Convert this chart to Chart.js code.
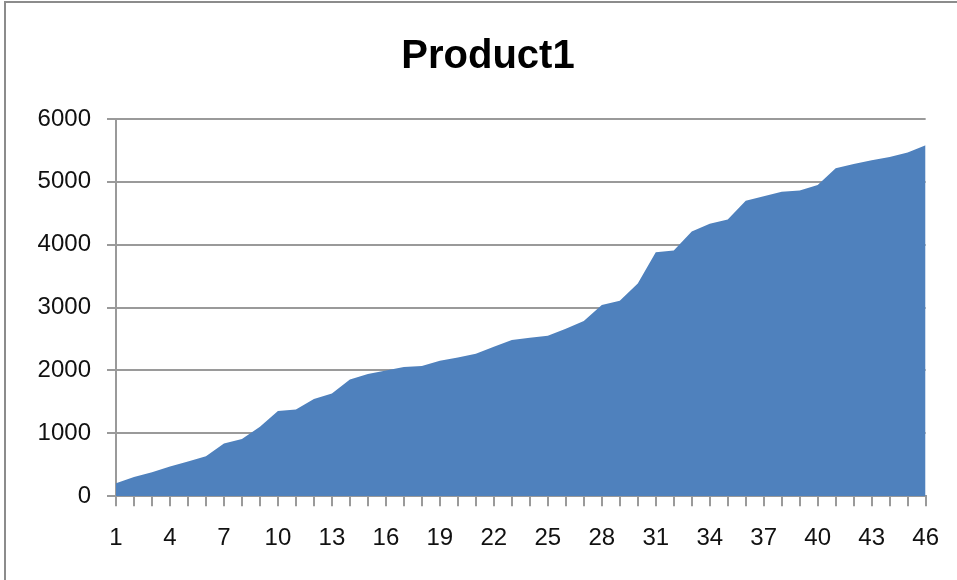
<!DOCTYPE html>
<html>
<head>
<meta charset="utf-8">
<script src="https://cdn.jsdelivr.net/npm/chart.js@4.4.1/dist/chart.umd.min.js"></script>
<style>
  body { margin: 0; background: #fff; overflow: hidden; }
  #frame { position: absolute; left: 4px; top: 1px; width: 1000px; height: 1000px;
           border-left: 2px solid #8c8c8c; border-top: 2px solid #8c8c8c; }
  #box { position: absolute; left: 0; top: 0; width: 957px; height: 580px; }
</style>
</head>
<body>
<div id="frame"></div>
<div id="box"><canvas id="product-chart"></canvas></div>
<script>
// values
const chartTitle = "Product1"
const days = []
for (let i = 1; i <= 46; i++) days.push(String(i))

const product1 = [
  207, 307, 382, 472, 552, 637, 838, 908, 1104, 1354,
  1380, 1545, 1635, 1858, 1944, 1998, 2055, 2071, 2155, 2208,
  2267, 2379, 2485, 2522, 2554, 2665, 2788, 3043, 3107, 3382,
  3881, 3908, 4211, 4333, 4402, 4700, 4773, 4843, 4864, 4949,
  5215, 5284, 5342, 5394, 5469, 5581
]

const yTicks = [0, 1000, 2000, 3000, 4000, 5000, 6000]

const labelFont = { family: "'Liberation Sans', Arial, sans-serif", size: 24 }
const gridGray = "#9a9a9a"

// title is centred on the original (wider) chart box, not on the canvas
const titlePlugin = {
  id: "offsetTitle",
  afterDraw(chart) {
    const ctx = chart.ctx
    ctx.save()
    ctx.fillStyle = "#000"
    ctx.font = "bold 40px 'Liberation Sans', Arial, sans-serif"
    ctx.textAlign = "center"
    ctx.textBaseline = "middle"
    ctx.fillText(chartTitle, 488, 57)
    ctx.restore()
  }
}

new Chart("product-chart", {
  type: "line",
  data: {
    labels: days,
    datasets: [{
      label: chartTitle,
      data: product1,
      fill: "origin",
      backgroundColor: "#4f81bd",
      borderColor: "#4f81bd",
      borderWidth: 0,
      pointRadius: 0,
      tension: 0
    }]
  },
  options: {
    responsive: true,
    maintainAspectRatio: false,
    animation: false,
    layout: { padding: { left: 0, right: 31, top: 119, bottom: 9 } },
    plugins: {
      legend: { display: false },
      tooltip: { enabled: false },
      title: { display: false }
    },
    scales: {
      x: {
        offset: false,
        border: { display: true, color: gridGray, width: 2 },
        grid: { drawOnChartArea: false, drawTicks: true, tickLength: 10, color: gridGray, lineWidth: 2 },
        ticks: {
          autoSkip: false,
          maxRotation: 0,
          padding: 18,
          color: "#111",
          font: labelFont,
          callback: function(value, index) {
            return index % 3 === 0 ? days[index] : ""
          }
        }
      },
      y: {
        min: 0,
        max: 6000,
        afterFit: function(scale) { scale.width = 116 },
        afterBuildTicks: function(scale) { scale.ticks = yTicks.map(v => ({ value: v })) },
        border: { display: true, color: gridGray, width: 2 },
        grid: { color: gridGray, lineWidth: 2, tickLength: 9 },
        ticks: {
          padding: 16,
          color: "#111",
          font: labelFont,
          callback: function(value) { return String(value) }
        }
      }
    }
  },
  plugins: [titlePlugin]
})
</script>
</body>
</html>
